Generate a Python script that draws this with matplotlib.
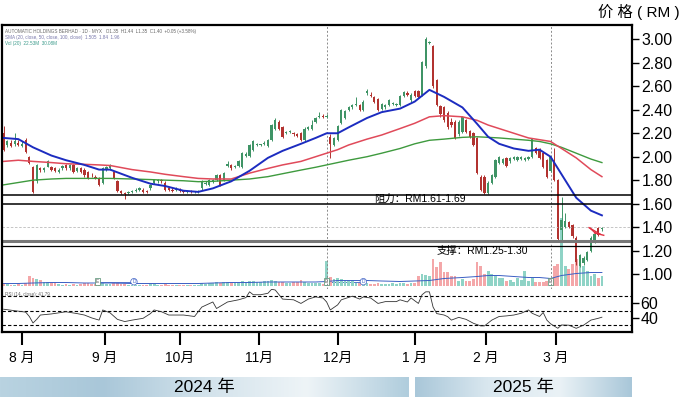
import numpy as np
import matplotlib.pyplot as plt

plt.rcParams['font.family'] = ['Liberation Sans', 'Noto Sans CJK SC', 'DejaVu Sans']

# daily bars, index 0 = late July 2024
opens = [2.20, 2.10, 2.12, 2.11, 2.12, 2.09, 2.14, 2.00, 1.91, 1.79,
         1.90, 1.89, 1.915, 1.91, 1.90, 1.87, 1.90, 1.93, 1.90, 1.93,
         1.88, 1.90, 1.89, 1.87, 1.845, 1.83, 1.82, 1.78, 1.89, 1.90,
         1.87, 1.79, 1.71, 1.69, 1.69, 1.70, 1.71, 1.72, 1.72, 1.71,
         1.73, 1.78, 1.79, 1.80, 1.78, 1.73, 1.72, 1.72, 1.72, 1.71,
         1.70, 1.71, 1.70, 1.70, 1.73, 1.77, 1.76, 1.79, 1.80, 1.84,
         1.80, 1.92, 1.93, 1.91, 1.92, 1.91, 2.01, 2.01, 2.06, 2.10,
         2.10, 2.11, 2.09, 2.14, 2.24, 2.30, 2.25, 2.20, 2.21, 2.20,
         2.19, 2.20, 2.14, 2.24, 2.24, 2.30, 2.34, 2.35, 2.34, 2.17,
         2.10, 2.14, 2.29, 2.33, 2.40, 2.42, 2.44, 2.44, 2.40, 2.54,
         2.53, 2.51, 2.49, 2.41, 2.42, 2.44, 2.45, 2.44, 2.44, 2.52,
         2.54, 2.48, 2.56, 2.56, 2.53, 2.77, 2.97, 2.94, 2.65, 2.43,
         2.42, 2.37, 2.30, 2.30, 2.19, 2.21, 2.31, 2.22, 2.20, 2.16,
         1.83, 1.83, 1.69, 1.78, 1.83, 1.95, 1.95, 1.99, 1.96, 1.98,
         1.97, 1.98, 1.97, 1.98, 2.00, 2.07, 2.06, 2.03, 1.97, 1.88,
         1.97, 1.80, 1.375, 1.40, 1.44, 1.42, 1.31, 1.07, 1.09, 1.12,
         1.20, 1.27, 1.39, 1.38]
highs = [2.26, 2.14, 2.14, 2.20, 2.14, 2.13, 2.16, 2.01, 1.92, 1.94,
         1.91, 1.91, 1.97, 1.92, 1.91, 1.90, 1.93, 1.94, 1.94, 1.94,
         1.91, 1.91, 1.90, 1.88, 1.86, 1.84, 1.83, 1.91, 1.92, 1.94,
         1.88, 1.80, 1.72, 1.70, 1.71, 1.72, 1.73, 1.74, 1.73, 1.72,
         1.77, 1.81, 1.81, 1.81, 1.79, 1.74, 1.73, 1.74, 1.73, 1.72,
         1.72, 1.72, 1.71, 1.72, 1.80, 1.79, 1.81, 1.81, 1.85, 1.85,
         1.87, 1.96, 1.94, 1.93, 1.97, 2.04, 2.04, 2.11, 2.14, 2.12,
         2.11, 2.13, 2.15, 2.28, 2.33, 2.31, 2.26, 2.22, 2.23, 2.21,
         2.20, 2.21, 2.25, 2.26, 2.31, 2.34, 2.38, 2.36, 2.36, 2.19,
         2.17, 2.27, 2.41, 2.40, 2.43, 2.45, 2.51, 2.45, 2.48, 2.58,
         2.55, 2.52, 2.50, 2.46, 2.45, 2.49, 2.47, 2.46, 2.53, 2.56,
         2.56, 2.54, 2.57, 2.57, 2.82, 3.02, 2.99, 2.95, 2.66, 2.44,
         2.43, 2.39, 2.33, 2.31, 2.31, 2.35, 2.32, 2.23, 2.21, 2.17,
         1.84, 1.84, 1.79, 1.85, 1.98, 2.01, 1.99, 2.00, 2.00, 2.01,
         2.01, 2.01, 2.00, 2.01, 2.16, 2.08, 2.07, 2.04, 1.98, 2.01,
         2.07, 1.81, 1.66, 1.52, 1.45, 1.43, 1.32, 1.17, 1.15, 1.20,
         1.32, 1.35, 1.40, 1.40]
lows = [2.05, 2.08, 2.08, 2.09, 2.09, 2.08, 2.03, 1.94, 1.69, 1.78,
        1.87, 1.87, 1.91, 1.88, 1.87, 1.86, 1.89, 1.89, 1.89, 1.86,
        1.87, 1.86, 1.83, 1.81, 1.83, 1.81, 1.75, 1.77, 1.88, 1.89,
        1.81, 1.70, 1.68, 1.64, 1.68, 1.69, 1.70, 1.71, 1.69, 1.69,
        1.72, 1.77, 1.78, 1.78, 1.71, 1.71, 1.70, 1.71, 1.70, 1.69,
        1.69, 1.69, 1.69, 1.69, 1.72, 1.76, 1.75, 1.78, 1.79, 1.75,
        1.79, 1.91, 1.89, 1.90, 1.91, 1.90, 2.00, 2.00, 2.05, 2.09,
        2.09, 2.10, 2.08, 2.13, 2.23, 2.23, 2.16, 2.19, 2.20, 2.18,
        2.17, 2.13, 2.13, 2.23, 2.23, 2.29, 2.33, 2.33, 2.33, 1.99,
        2.09, 2.13, 2.28, 2.32, 2.39, 2.41, 2.43, 2.39, 2.39, 2.53,
        2.51, 2.46, 2.39, 2.40, 2.41, 2.43, 2.44, 2.43, 2.43, 2.51,
        2.52, 2.47, 2.51, 2.50, 2.52, 2.76, 2.96, 2.59, 2.43, 2.34,
        2.30, 2.24, 2.25, 2.15, 2.18, 2.20, 2.20, 2.16, 2.09, 1.85,
        1.71, 1.68, 1.68, 1.77, 1.82, 1.94, 1.94, 1.91, 1.95, 1.97,
        1.96, 1.97, 1.96, 1.97, 1.99, 2.02, 1.98, 1.90, 1.82, 1.87,
        1.79, 1.28, 1.29, 1.39, 1.39, 1.31, 1.08, 1.06, 1.08, 1.11,
        1.19, 1.26, 1.32, 1.37]
closes = [2.06, 2.13, 2.09, 2.13, 2.10, 2.11, 2.04, 1.95, 1.70, 1.93,
          1.89, 1.90, 1.96, 1.89, 1.88, 1.89, 1.92, 1.90, 1.93, 1.87,
          1.90, 1.87, 1.84, 1.82, 1.84, 1.82, 1.76, 1.90, 1.91, 1.92,
          1.82, 1.71, 1.69, 1.68, 1.70, 1.71, 1.72, 1.73, 1.70, 1.70,
          1.76, 1.80, 1.80, 1.79, 1.72, 1.72, 1.71, 1.73, 1.71, 1.70,
          1.71, 1.70, 1.70, 1.71, 1.79, 1.78, 1.80, 1.80, 1.84, 1.76,
          1.86, 1.94, 1.90, 1.92, 1.96, 2.03, 2.02, 2.10, 2.13, 2.11,
          2.10, 2.12, 2.14, 2.27, 2.31, 2.24, 2.17, 2.21, 2.22, 2.19,
          2.18, 2.14, 2.24, 2.25, 2.27, 2.33, 2.35, 2.34, 2.35, 2.11,
          2.16, 2.26, 2.40, 2.39, 2.42, 2.44, 2.45, 2.40, 2.47, 2.56,
          2.52, 2.47, 2.40, 2.45, 2.44, 2.48, 2.46, 2.45, 2.52, 2.55,
          2.53, 2.53, 2.52, 2.51, 2.81, 3.00, 2.98, 2.60, 2.44, 2.36,
          2.31, 2.25, 2.27, 2.16, 2.30, 2.34, 2.21, 2.17, 2.10, 1.86,
          1.72, 1.69, 1.78, 1.84, 1.97, 2.00, 1.98, 1.92, 1.99, 2.00,
          2.00, 2.00, 1.99, 2.00, 2.15, 2.03, 1.99, 1.91, 1.83, 2.00,
          1.80, 1.30, 1.46, 1.45, 1.40, 1.32, 1.10, 1.16, 1.14, 1.19,
          1.31, 1.34, 1.33, 1.39]
# volume, million shares
volume = [1.5, 1, 0.5, 0.5, 1, 0.5, 1.5, 5, 4, 3.5,
          3, 2, 2, 1.5, 1.5, 1, 0.5, 1, 0.5, 1,
          0.5, 1, 1.5, 1.5, 1, 1, 1.5, 1.5, 1, 1,
          1.5, 1.5, 1, 1, 0.5, 0.5, 0.5, 0.5, 0.5, 0.5,
          1, 1, 0.5, 0.5, 1, 0.5, 0.5, 0.5, 0.5, 0.5,
          0.5, 0.5, 0.5, 0.5, 1.5, 1, 1.5, 1.5, 2, 1.5,
          2, 2, 1.5, 1.5, 2, 2.5, 2, 2.5, 2.5, 2,
          2, 2.5, 2.5, 3, 2.5, 2, 2, 1.5, 1.5, 2,
          2, 3, 2, 1.5, 1.5, 1.5, 1.5, 1, 12.5, 4.5,
          3.5, 4, 3.5, 3, 2.5, 3, 1.5, 1.5, 1, 1.5,
          1, 1, 1.5, 1, 1, 1, 1.5, 1, 1.5, 1.5,
          1, 1.5, 1.5, 5, 6, 5.5, 5, 13.5, 9.5, 12,
          7, 7, 5, 5, 2.5, 3.5, 2.5, 2.5, 3.5, 12,
          10, 6, 7.5, 6, 5, 4, 4, 2.5, 3, 2,
          4, 3, 7.5, 2.5, 4, 2, 2, 2, 2.5, 2,
          10, 11, 34, 10, 8.5, 11, 13.5, 15, 10, 7.5,
          5, 6, 4, 5]

# moving averages read at sample bars
ma_bars = [0, 4, 8, 13, 17, 22, 26, 29, 35, 40, 44, 49, 53, 57, 62, 67, 72, 76, 81, 85,
           88, 91, 94, 99, 103, 108, 112, 116, 120, 125, 129, 132, 135, 139, 143, 146, 149,
           152, 156, 160, 163]
ma_fast = [2.16, 2.15, 2.08, 2.01, 1.97, 1.93, 1.89, 1.89, 1.82, 1.77, 1.75, 1.71, 1.70,
           1.73, 1.79, 1.88, 1.99, 2.05, 2.11, 2.16, 2.20, 2.20, 2.25, 2.33, 2.38, 2.41,
           2.47, 2.57, 2.51, 2.42, 2.28, 2.17, 2.11, 2.07, 2.05, 2.06, 2.00, 1.85, 1.65,
           1.54, 1.50]
ma_mid = [1.96, 1.97, 1.96, 1.95, 1.94, 1.935, 1.93, 1.925, 1.89, 1.87, 1.85, 1.83, 1.815,
          1.81, 1.81, 1.86, 1.90, 1.93, 1.96, 2.00, 2.03, 2.06, 2.10, 2.15, 2.185, 2.24,
          2.285, 2.34, 2.35, 2.34, 2.31, 2.27, 2.24, 2.20, 2.16, 2.145, 2.13, 2.07, 1.99,
          1.89, 1.83]
ma_slow = [1.76, 1.78, 1.80, 1.81, 1.815, 1.815, 1.815, 1.815, 1.81, 1.805, 1.80, 1.795,
           1.787, 1.79, 1.80, 1.81, 1.83, 1.855, 1.886, 1.91, 1.93, 1.95, 1.97, 2.00, 2.03,
           2.07, 2.11, 2.14, 2.15, 2.165, 2.17, 2.165, 2.16, 2.15, 2.14, 2.13, 2.11, 2.08,
           2.03, 1.98, 1.95]
vol_ma = [1, 1, 1.25, 1.5, 1.5, 1.25, 1.25, 1.25, 1, 1, 1, 1, 1, 1.25, 1.5, 1.5, 1.75,
          1.75, 1.75, 1.75, 2, 2.5, 2.5, 2.5, 2.25, 2, 2.25, 2.5, 3.5, 4, 4.5, 5, 5, 4.5,
          4, 4, 3.5, 5, 6, 6.5, 6.5]

rsi_bars = [0, 3, 6, 7, 8, 9, 10, 13, 17, 20, 22, 24, 26, 27, 29, 31, 33, 35, 38, 40,
            41, 43, 45, 49, 52, 54, 57, 58, 61, 64, 66, 67, 68, 70, 72, 73, 74, 76, 79, 81,
            83, 85, 87, 88, 89, 91, 92, 95, 97, 98, 100, 102, 104, 107, 108, 110, 111, 113,
            114, 115, 116, 117, 118, 120, 121, 122, 124, 126, 128, 130, 131, 133, 135, 137,
            139, 141, 143, 144, 146, 147, 148, 149, 151, 152, 154, 156, 158, 160, 162, 163]
rsi = [52, 50, 48, 42, 33, 38, 44, 45.5, 48.5, 46, 44, 40, 37, 51, 47, 38, 35, 37, 39.5, 46,
       51, 48.5, 44, 44, 42, 55, 62, 53, 62, 65, 68, 76, 72, 72, 74, 79.5, 78.5, 66, 65, 60,
       66, 69, 67.5, 62, 51, 58, 65, 70, 66, 69, 67.5, 60, 62.5, 62.5, 65, 62, 67.5, 60,
       72, 76, 76, 55, 46, 44, 41.7, 37, 40.8, 38, 32.6, 29, 29, 37, 42, 42.8,
       44, 46.4, 51, 46.4, 42, 47.5, 37, 32, 25.7, 30.3, 30, 25.7, 30, 37, 39.5, 41]

months = ['8 月', '9 月', '10月', '11月', '12月', '1 月', '2 月', '3 月']
month_bar = [5, 27.5, 48, 69.5, 91, 112, 131.5, 150.5]
years = ['2024 年', '2025 年']
resistance = [1.675, 1.60]
support = [1.28, 1.24]
last_price = 1.40
marked_bars = [88, 149]
events = [('E', 25.5), ('D', 35.5), ('E', 88), ('D', 98), ('E', 149)]
pennant = [[(159.5, 1.395), (162.5, 1.34)], [(161, 1.35), (163.5, 1.33)], [(159.8, 1.39), (161.2, 1.35)]]

W, H = 682, 397
fig = plt.figure(figsize=(W / 100, H / 100), dpi=100)


def rect(x0, y0, x1, y1):
    return [x0 / W, 1 - y1 / H, (x1 - x0) / W, (y1 - y0) / H]


xlim = (-0.45, 171.2)
up_c, dn_c = '#3f9466', '#b23330'
vup_c, vdn_c = '#8fd3c6', '#f4a7a9'

x = np.arange(len(closes))
o = np.array(opens); c = np.array(closes); hi = np.array(highs); lo = np.array(lows)
up = c >= o

# volume underlay
axv = fig.add_axes(rect(2, 25, 632, 289))
axv.bar(x, volume, width=0.75, color=np.where(up, vup_c, vdn_c), linewidth=0)
axv.plot(ma_bars, vol_ma, color='#3b5fc4', lw=0.7)
for lab, b in events:
    if lab == 'E':
        axv.text(b, 1.9, lab, fontsize=3.5, ha='center', va='center', color='#555555',
                 bbox=dict(boxstyle='square,pad=0.2', fc='white', ec='#4a8a6a', lw=0.5))
    else:
        axv.text(b, 1.9, lab, fontsize=3.5, ha='center', va='center', color='#3b5fc4',
                 bbox=dict(boxstyle='circle,pad=0.15', fc='white', ec='#3b5fc4', lw=0.5))
axv.plot([25.5, 35.5], [1.9, 1.9], color='#3b5fc4', lw=0.6, zorder=0)
axv.plot([88, 98], [1.9, 1.9], color='#3b5fc4', lw=0.6, zorder=0)
axv.set_xlim(xlim)
axv.set_ylim(-1.75, 130.25)
axv.axis('off')

# price
ax = fig.add_axes(rect(2, 25, 632, 289))
ax.patch.set_alpha(0)
ax.set_xlim(xlim)
ax.set_ylim(0.872, 3.123)
for b in marked_bars:
    ax.axvline(b, color='#8a8a8a', lw=0.7, ls=(0, (2, 2)))
ax.axhline(last_price, color='#bbbbbb', lw=0.6, ls=(0, (3, 2)))
ax.vlines(x, lo, hi, colors=np.where(up, up_c, dn_c), lw=0.7)
body = np.maximum(np.abs(c - o), 0.006)
ax.bar(x, body, bottom=np.minimum(o, c), width=0.62, color=np.where(up, up_c, dn_c), linewidth=0)
ax.plot(ma_bars, ma_slow, color='#3e9a3e', lw=1.0)
ax.plot(ma_bars, ma_mid, color='#e04a5a', lw=1.1)
ax.plot(ma_bars, ma_fast, color='#1c2cc0', lw=1.4)
for seg in pennant:
    ax.plot([p[0] for p in seg], [p[1] for p in seg], color='#e03040', lw=1.0)
ax.axhline(resistance[0], color='black', lw=1.1)
ax.axhline(resistance[1], color='black', lw=1.1)
ax.axhline(support[0], color='#777777', lw=2.2)
ax.axhline(support[1], color='black', lw=0.9)
ax.text(101, 1.638, '阻力：RM1.61-1.69', fontsize=7.5, ha='left', va='center')
ax.text(118, 1.195, '支撑：RM1.25-1.30', fontsize=7.5, ha='left', va='center')
for s in ax.spines.values():
    s.set_visible(False)
ax.set_xticks([])
ax.yaxis.tick_right()
ax.set_yticks(np.arange(1.0, 3.01, 0.2))
ax.set_yticklabels(['%.2f' % v for v in np.arange(1.0, 3.01, 0.2)])
ax.tick_params(axis='y', length=5, width=1, pad=2, labelsize=11.5)

ax.text(0.005, 0.985, 'AUTOMATIC HOLDINGS BERHAD · 1D · MYX   O1.35  H1.44  L1.35  C1.40  +0.05 (+3.58%)',
        transform=ax.transAxes, fontsize=3.3, color='#666666', va='top')
ax.text(0.005, 0.962, 'SMA (20, close, 50, close, 100, close)  1.505  1.84  1.96',
        transform=ax.transAxes, fontsize=3.3, color='#7777aa', va='top')
ax.text(0.005, 0.939, 'Vol (20)  22.53M  30.08M', transform=ax.transAxes, fontsize=3.3,
        color='#3a9a8a', va='top')

# RSI
axr = fig.add_axes(rect(2, 289, 632, 332))
axr.set_xlim(xlim)
axr.set_ylim(20.6, 79.9)
for lv in (70, 50, 30):
    axr.axhline(lv, color='black', lw=0.8, ls=(0, (3, 2)))
axr.plot(rsi_bars, rsi, color='#333333', lw=0.6)
axr.text(0.005, 0.93, 'RSI (14, close): 41.79', transform=axr.transAxes, fontsize=3.3,
         color='#666666', va='top')
for s in axr.spines.values():
    s.set_visible(False)
axr.yaxis.tick_right()
axr.set_yticks([40, 60])
axr.tick_params(axis='y', length=5, width=1, pad=1, labelsize=11.5)
axr.set_xticks(month_bar)
axr.set_xticklabels(months)
axr.tick_params(axis='x', length=9.5, width=1.5, pad=4, labelsize=10)

# outer frame
fr = fig.add_axes(rect(2, 25, 632, 332))
fr.patch.set_alpha(0)
fr.set_xticks([]); fr.set_yticks([])
for s in fr.spines.values():
    s.set_linewidth(1.6)

fig.text(680 / W, 1 - 12 / H, '价 格 ( RM )', fontsize=11, ha='right', va='center')

# year bands
grad = np.linspace(0, 1, 256).reshape(1, -1)
from matplotlib.colors import LinearSegmentedColormap
cm24 = LinearSegmentedColormap.from_list('b24', ['#b9d3e1', '#a9c7d9', '#d2e2eb', '#eef4f7', '#b0cddd'])
cm25 = LinearSegmentedColormap.from_list('b25', ['#a9c7d9', '#d9e7ef', '#eaf2f6', '#a9c7d9'])
for (x0, x1), cmap, lab in zip([(0, 409), (415, 632)], [cm24, cm25], years):
    yb = fig.add_axes(rect(x0, 376.5, x1, 397))
    yb.imshow(grad, aspect='auto', cmap=cmap, extent=(0, 1, 0, 1))
    yb.text(0.5, 0.47, lab, fontsize=12.5, ha='center', va='center', transform=yb.transAxes)
    yb.axis('off')

fig.savefig('out.png', dpi=100)
